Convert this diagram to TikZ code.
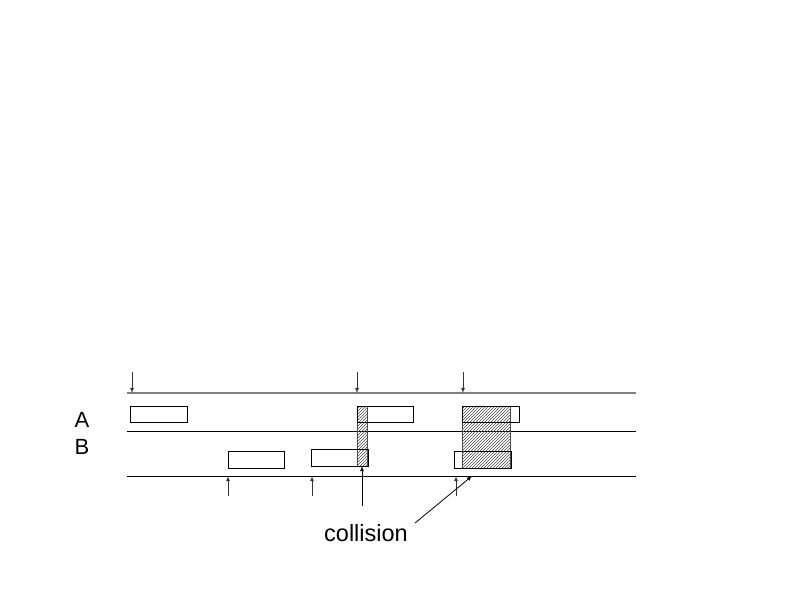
\documentclass[tikz,border=0pt]{standalone}
\usepackage{fontspec}
\setmainfont{Liberation Sans}
\usetikzlibrary{patterns}

\begin{document}
\begin{tikzpicture}[x=1pt,y=-1pt,line width=0.8pt,
  lane/.style={black},
  tick/.style={->,>=latex,gray!40!black},
  slot/.style={draw=black},
  hit/.style={pattern=north east lines,pattern color=gray!60!black,draw=gray!60!black}]
\useasboundingbox (0,0) rectangle (794,595);
% lanes
\draw[gray,line width=1.6pt] (127,393) -- (636,393);
\draw[lane] (127,431) -- (636,431);
\draw[lane] (127,476) -- (636,476);
\node (labA) at (82,420) {\fontsize{22}{26}\selectfont A};
\node (labB) at (82,447) {\fontsize{22}{26}\selectfont B};
% overlaps
\fill[hit] (357,406) rectangle (367,466);
\fill[hit] (462,406) rectangle (510,468);
\draw[gray!60!black] (357,406) rectangle (367,466);
\draw[gray!60!black] (462,406) rectangle (510,468);
% frames
\foreach \x/\w in {130/187,357/413,462/519} \draw[slot] (\x,406) rectangle (\w,422);
\foreach \x/\w/\y in {228/284/451,311/368/449,454/511/451} \draw[slot] (\x,\y) rectangle (\w,\y+17);
\foreach \x in {132,357,463} \draw[tick] (\x,372) -- (\x,393);
\foreach \x in {228,312,456} \draw[tick] (\x,496) -- (\x,476);
% collision
\node (coll) at (366,533) {\fontsize{23.5}{28}\selectfont collision};
\coordinate (c1) at (362,506);
\coordinate (h1) at (362,466);
\coordinate (c2) at (415,523);
\coordinate (h2) at (472,476);
\draw[->,>=latex] (c1) -- (h1);
\draw[->,>=latex] (c2) -- (h2);
\end{tikzpicture}
\end{document}
